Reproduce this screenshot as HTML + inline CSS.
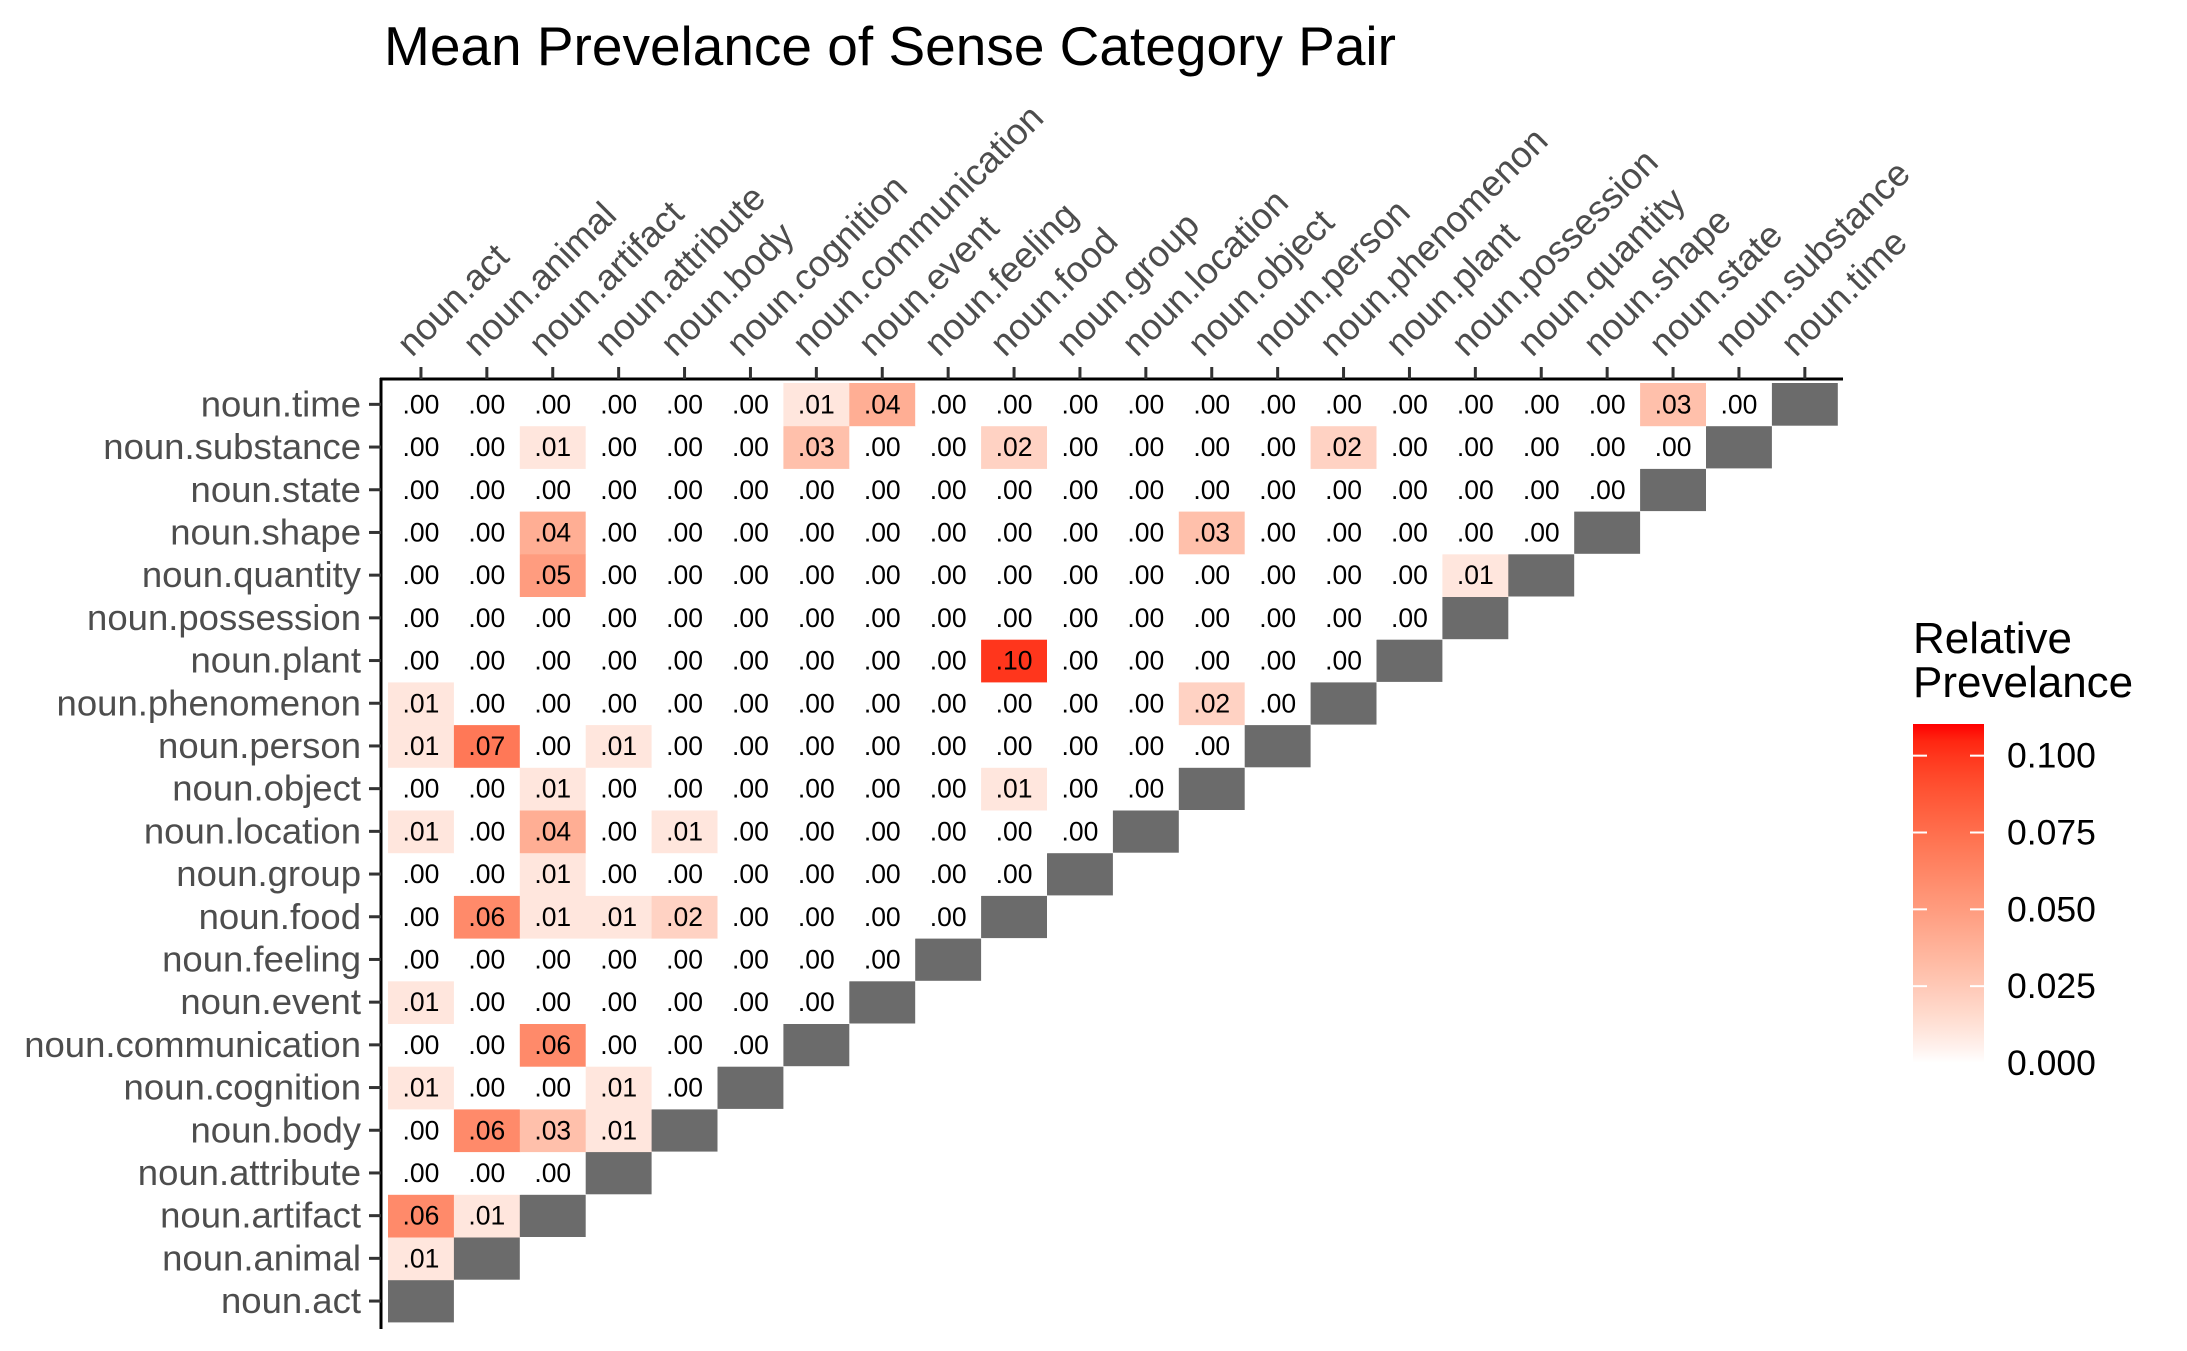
<!DOCTYPE html>
<html><head><meta charset="utf-8"><style>
html,body{margin:0;padding:0;background:#fff;}
svg{display:block;font-family:"Liberation Sans",Arial,sans-serif;}
</style></head><body>
<svg id="chart" width="2187" height="1351" viewBox="0 0 2187 1351" xmlns="http://www.w3.org/2000/svg">
<rect width="2187" height="1351" fill="#fff"/>
<text x="384" y="65" font-size="55" fill="#000">Mean Prevelance of Sense Category Pair</text>
<g id="cells"></g>
<g id="axes"></g>
<g id="legend">
<text x="1913" y="653" font-size="44" fill="#000">Relative</text>
<text x="1913" y="697" font-size="44" fill="#000">Prevelance</text>
</g>
</svg>
<script>
const categories = ["noun.act","noun.animal","noun.artifact","noun.attribute","noun.body","noun.cognition","noun.communication","noun.event","noun.feeling","noun.food","noun.group","noun.location","noun.object","noun.person","noun.phenomenon","noun.plant","noun.possession","noun.quantity","noun.shape","noun.state","noun.substance","noun.time"];
const rowAnimal = [0.01];
const rowArtifact = [0.06,0.01];
const rowAttribute = [0,0,0];
const rowBody = [0,0.06,0.03,0.01];
const rowCognition = [0.01,0,0,0.01,0];
const rowCommunication = [0,0,0.06,0,0,0];
const rowEvent = [0.01,0,0,0,0,0,0];
const rowFeeling = [0,0,0,0,0,0,0,0];
const rowFood = [0,0.06,0.01,0.01,0.02,0,0,0,0];
const rowGroup = [0,0,0.01,0,0,0,0,0,0,0];
const rowLocation = [0.01,0,0.04,0,0.01,0,0,0,0,0,0];
const rowObject = [0,0,0.01,0,0,0,0,0,0,0.01,0,0];
const rowPerson = [0.01,0.07,0,0.01,0,0,0,0,0,0,0,0,0];
const rowPhenomenon = [0.01,0,0,0,0,0,0,0,0,0,0,0,0.02,0];
const rowPlant = [0,0,0,0,0,0,0,0,0,0.10,0,0,0,0,0];
const rowPossession = [0,0,0,0,0,0,0,0,0,0,0,0,0,0,0,0];
const rowQuantity = [0,0,0.05,0,0,0,0,0,0,0,0,0,0,0,0,0,0.01];
const rowShape = [0,0,0.04,0,0,0,0,0,0,0,0,0,0.03,0,0,0,0,0];
const rowState = [0,0,0,0,0,0,0,0,0,0,0,0,0,0,0,0,0,0,0];
const rowSubstance = [0,0,0.01,0,0,0,0.03,0,0,0.02,0,0,0,0,0.02,0,0,0,0,0];
const rowTime = [0,0,0,0,0,0,0.01,0.04,0,0,0,0,0,0,0,0,0,0,0,0.03,0];
const legendTicks = [0,0.025,0.05,0.075,0.1];
const legendTickLabels = ["0.000","0.025","0.050","0.075","0.100"];

const rowValues = [[],rowAnimal,rowArtifact,rowAttribute,rowBody,rowCognition,rowCommunication,rowEvent,rowFeeling,rowFood,rowGroup,rowLocation,rowObject,rowPerson,rowPhenomenon,rowPlant,rowPossession,rowQuantity,rowShape,rowState,rowSubstance,rowTime];

const NS="http://www.w3.org/2000/svg";
const X0=388, CW=65.9, Y0=383, RH=42.7, N=categories.length;
const vMin=0, vMax=0.1103;
const xPos = i => X0 + i*CW;
const yPos = k => Y0 + (N-1-k)*RH;
function mk(tag, attrs, parent){const e=document.createElementNS(NS,tag);for(const a in attrs)e.setAttribute(a,attrs[a]);parent.appendChild(e);return e;}

function srgb2lin(c){c/=255;return c<=0.04045?c/12.92:Math.pow((c+0.055)/1.055,2.4);}
function lin2srgb(c){c=c<=0.0031308?12.92*c:1.055*Math.pow(c,1/2.4)-0.055;return Math.max(0,Math.min(255,Math.round(c*255)));}
function toLab(r,g,b){r=srgb2lin(r);g=srgb2lin(g);b=srgb2lin(b);
 let X=(0.4124*r+0.3576*g+0.1805*b)/0.95047,Y=(0.2126*r+0.7152*g+0.0722*b),Z=(0.0193*r+0.1192*g+0.9505*b)/1.08883;
 const f=t=>t>0.008856?Math.cbrt(t):7.787*t+16/116;const fx=f(X),fy=f(Y),fz=f(Z);
 return [116*fy-16,500*(fx-fy),200*(fy-fz)];}
function fromLab(L,a,bb){const fy=(L+16)/116,fx=fy+a/500,fz=fy-bb/200;
 const fi=t=>t*t*t>0.008856?t*t*t:(t-16/116)/7.787;
 const X=fi(fx)*0.95047,Y=fi(fy),Z=fi(fz)*1.08883;
 const r=3.2406*X-1.5372*Y-0.4986*Z,g=-0.9689*X+1.8758*Y+0.0415*Z,b=0.0557*X-0.2040*Y+1.0570*Z;
 return "rgb("+lin2srgb(r)+","+lin2srgb(g)+","+lin2srgb(b)+")";}
const LW=toLab(255,255,255), LR=toLab(255,0,0);
function color(v){let t=(v-vMin)/(vMax-vMin);t=Math.max(0,Math.min(1,t));t=Math.pow(t,0.85);
 return fromLab(LW[0]+(LR[0]-LW[0])*t,LW[1]+(LR[1]-LW[1])*t,LW[2]+(LR[2]-LW[2])*t);}
function fmt(v){return "."+String(Math.round(v*100)).padStart(2,"0");}

const cells=document.getElementById("cells");
for(let k=0;k<N;k++){
  const vals=rowValues[k];
  for(let i=0;i<vals.length;i++){
    const r=mk("rect",{x:xPos(i),y:yPos(k),width:CW+0.5,height:RH+0.5,fill:color(vals[i])},cells);
    
    
    const t=mk("text",{x:xPos(i)+CW/2,y:yPos(k)+RH/2+9,"font-size":26.5,"text-anchor":"middle",fill:"#000"},cells);
    t.textContent=fmt(vals[i]);
    
    
  }
  const d=mk("rect",{x:xPos(k),y:yPos(k),width:CW,height:RH,fill:"#6b6b6b"},cells);
  
  
}

const axes=document.getElementById("axes");
const xl=mk("line",{x1:380,y1:379,x2:1843,y2:379,stroke:"#000","stroke-width":3},axes);


const yl=mk("line",{x1:381,y1:378,x2:381,y2:1329,stroke:"#000","stroke-width":3},axes);


for(let i=0;i<N;i++){
  const cx=xPos(i)+CW/2;
  const tk=mk("line",{x1:cx,y1:367,x2:cx,y2:379,stroke:"#333","stroke-width":3},axes);
  
  
  const lb=mk("text",{x:cx-9,y:358,"font-size":36.5,fill:"#4d4d4d",transform:"rotate(-45 "+(cx-9)+" 358)"},axes);
  lb.textContent=categories[i];
  
  
  const cy=yPos(i)+RH/2;
  const ty=mk("line",{x1:369,y1:cy,x2:381,y2:cy,stroke:"#333","stroke-width":3},axes);
  
  
  const ly=mk("text",{x:361,y:cy+12,"font-size":36.5,fill:"#4d4d4d","text-anchor":"end"},axes);
  ly.textContent=categories[i];
  
  
}

const legend=document.getElementById("legend");
const LB_TOP=724, LB_BOT=1063;
const lv = v => LB_BOT - (v-vMin)/(vMax-vMin)*(LB_BOT-LB_TOP);
const defs=mk("defs",{},legend);
const grad=mk("linearGradient",{id:"lg",x1:0,y1:1,x2:0,y2:0},defs);
for(let s=0;s<=20;s++){mk("stop",{offset:(s/20),"stop-color":color(vMin+(vMax-vMin)*s/20)},grad);}
const bar=mk("rect",{x:1913,y:LB_TOP,width:71,height:LB_BOT-LB_TOP,fill:"url(#lg)"},legend);


legendTicks.forEach((v,j)=>{
  const y=lv(v);
  const a=mk("line",{x1:1913,y1:y,x2:1927,y2:y,stroke:"#fff","stroke-width":2},legend);
  
  
  const b=mk("line",{x1:1970,y1:y,x2:1984,y2:y,stroke:"#fff","stroke-width":2},legend);
  
  
  const t=mk("text",{x:2007,y:y+12,"font-size":35.5,fill:"#000"},legend);
  t.textContent=legendTickLabels[j];
  
  
});
</script>
</body></html>
